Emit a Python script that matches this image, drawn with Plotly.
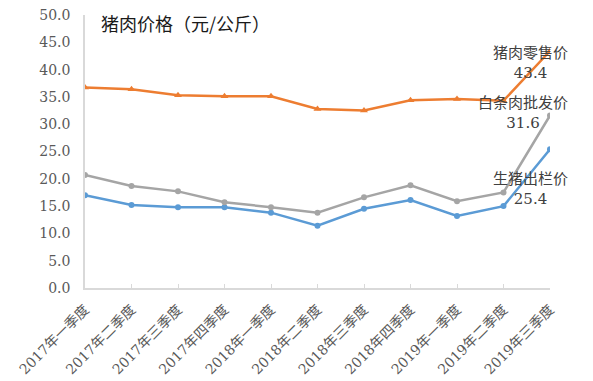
import plotly.graph_objects as go

categories = ["2017年一季度", "2017年二季度", "2017年三季度", "2017年四季度",
              "2018年一季度", "2018年二季度", "2018年三季度", "2018年四季度",
              "2019年一季度", "2019年二季度", "2019年三季度"]
retail = [36.7, 36.4, 35.3, 35.1, 35.1, 32.8, 32.5, 34.4, 34.6, 34.3, 43.4]
wholesale = [20.7, 18.7, 17.7, 15.7, 14.8, 13.8, 16.6, 18.8, 15.9, 17.5, 31.6]
hog = [17.0, 15.2, 14.8, 14.8, 13.8, 11.4, 14.5, 16.1, 13.2, 15.0, 25.4]
y_ticks = [0, 5, 10, 15, 20, 25, 30, 35, 40, 45, 50]

title = "猪肉价格（元/公斤）"
labels = ["猪肉零售价", "白条肉批发价", "生猪出栏价"]

fig = go.Figure()
fig.add_trace(go.Scatter(x=categories, y=hog, mode="lines+markers", name=labels[2],
                         line=dict(color="#5B9BD5", width=2.5),
                         marker=dict(symbol="circle", size=6, color="#5B9BD5")))
fig.add_trace(go.Scatter(x=categories, y=wholesale, mode="lines+markers", name=labels[1],
                         line=dict(color="#A5A5A5", width=2.5),
                         marker=dict(symbol="circle", size=6, color="#A5A5A5")))
fig.add_trace(go.Scatter(x=categories, y=retail, mode="lines+markers", name=labels[0],
                         line=dict(color="#ED7D31", width=2.5),
                         marker=dict(symbol="triangle-up", size=7, color="#ED7D31")))

tick_font = dict(family="DejaVu Serif, Noto Sans CJK SC", size=14, color="#595959")
ann_font = dict(family="DejaVu Serif, Noto Sans CJK SC", size=15, color="#404040")

fig.update_layout(
    width=593, height=381,
    margin=dict(l=85, r=43, t=15, b=93, autoexpand=False),
    paper_bgcolor="white", plot_bgcolor="white",
    showlegend=False,
    xaxis=dict(type="category", range=[0, len(categories) - 1],
               tickangle=-45, tickfont=tick_font, automargin=False,
               ticklabelstandoff=6,
               showline=True, linecolor="#D9D9D9", linewidth=1.5,
               ticks="inside", ticklen=4, tickcolor="#D9D9D9",
               showgrid=False, zeroline=False),
    yaxis=dict(range=[0, 50], tickvals=y_ticks, tickformat=".1f",
               tickfont=tick_font, automargin=False, ticklabelstandoff=10,
               showline=True, linecolor="#D9D9D9", linewidth=1.5,
               ticks="", showgrid=False, zeroline=False),
)

n = len(categories) - 1
fig.add_annotation(text=title, xref="paper", yref="paper", x=0.03, y=0.97,
                   showarrow=False, xanchor="left", yanchor="middle",
                   font=dict(family="Noto Sans CJK SC", size=18, color="#1a1a1a"))
fig.add_annotation(text=f"{labels[0]}<br>{retail[-1]}", x=n - 0.43, y=41.3,
                   xref="x", yref="y", showarrow=False, font=ann_font, align="center")
fig.add_annotation(text=f"{labels[1]}<br>{wholesale[-1]}", x=n - 0.58, y=32.0,
                   xref="x", yref="y", showarrow=False, font=ann_font, align="center")
fig.add_annotation(text=f"{labels[2]}<br>{hog[-1]}", x=n - 0.43, y=18.1,
                   xref="x", yref="y", showarrow=False, font=ann_font, align="center")

fig.write_html("out.html", config={"displayModeBar": False},
               post_script="document.body.style.margin='0';document.body.style.overflow='hidden';")
